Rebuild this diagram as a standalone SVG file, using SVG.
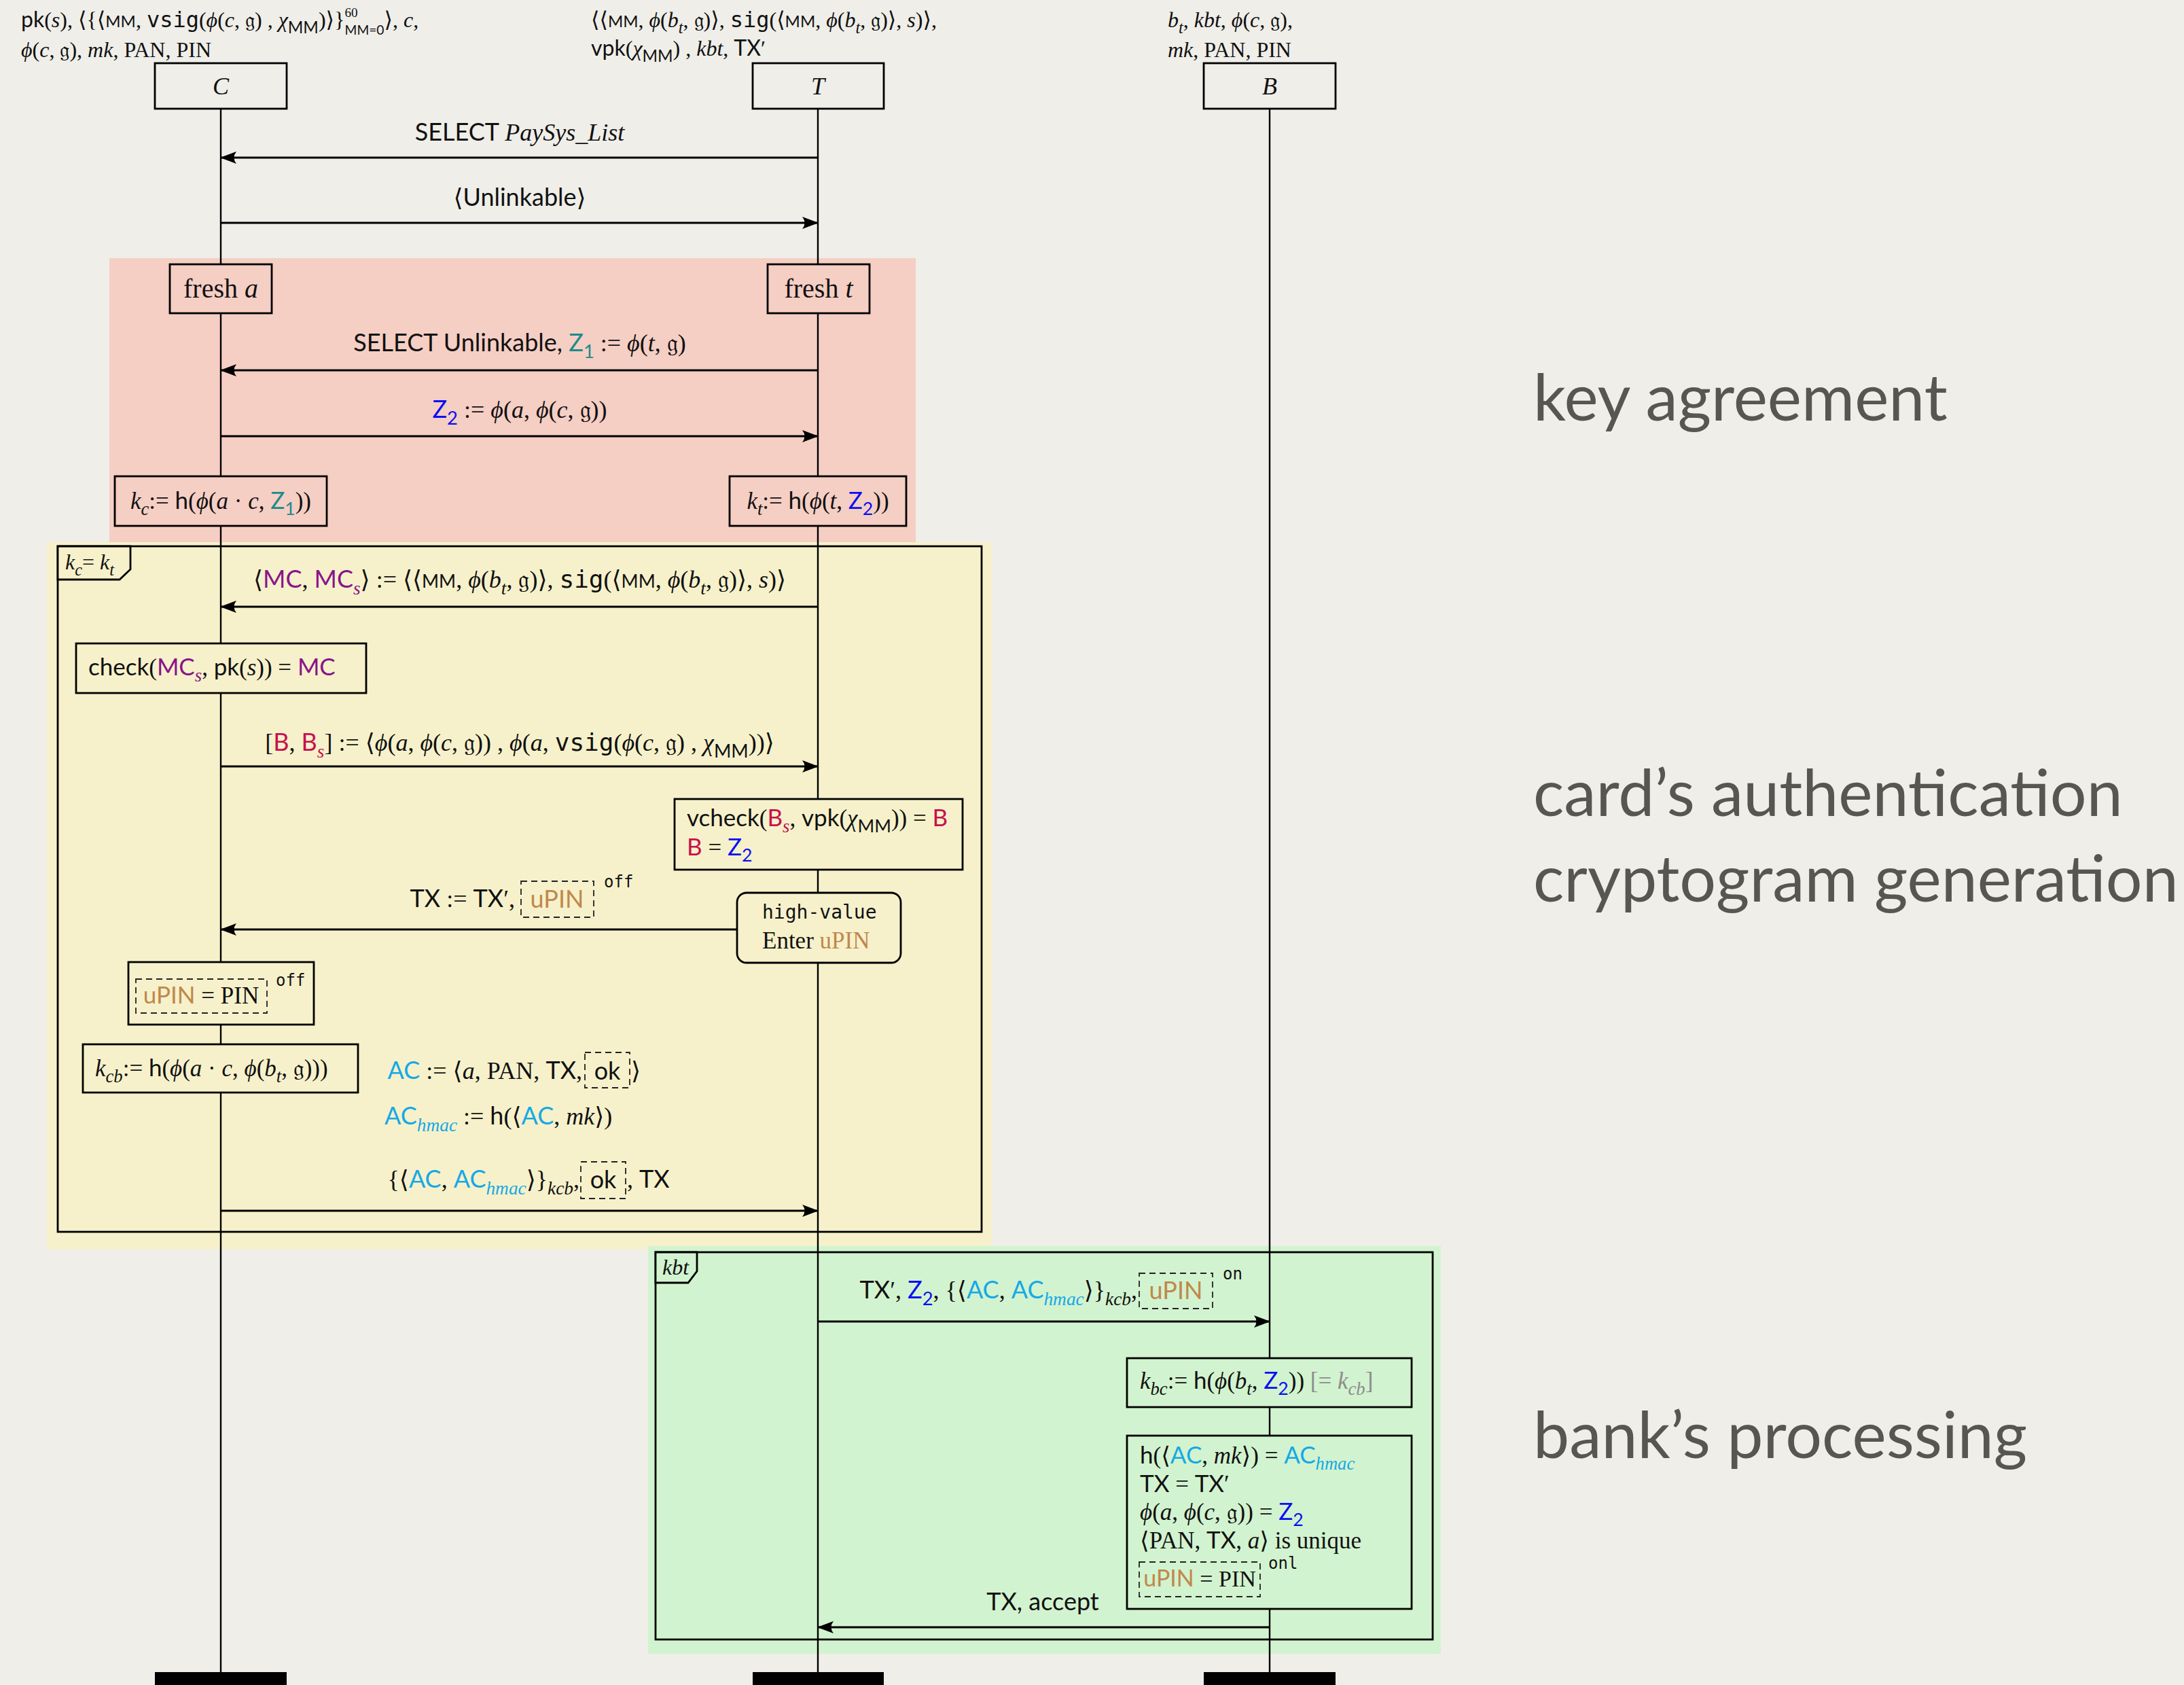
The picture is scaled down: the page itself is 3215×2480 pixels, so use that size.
<svg xmlns="http://www.w3.org/2000/svg" width="3215" height="2480" viewBox="0 0 3215 2480">
<style>
text{font-family:"Liberation Serif","DejaVu Serif",serif;fill:#111;font-size:36px}
.hd{font-size:32px}
.bx{font-size:35px}
.sf{font-family:Lato,"Noto Sans","DejaVu Sans",sans-serif}
.it{font-family:"Liberation Serif","DejaVu Serif",serif;font-style:italic}
.tt{font-family:"DejaVu Sans Mono","Liberation Mono",monospace}
.sm{font-size:75%}
.sub{font-size:76%;baseline-shift:-0.35em}
.lim-up{font-size:60%;baseline-shift:0.8em}
.lim-dn{font-size:60%;baseline-shift:-0.55em}
.teal{fill:#1c8b8b}.blue{fill:#0a10f2}.pur{fill:#8a138a}.crim{fill:#c8104e}.cyan{fill:#16a9e6}.org{fill:#c0884a}.gry{fill:#8c8c8c}
.big{font-family:Lato,"Noto Sans",sans-serif;font-size:95px;fill:#57564f}
.box{stroke:#000;stroke-width:2.8}
.dash{fill:none;stroke:#222;stroke-width:1.8;stroke-dasharray:9 6}
.life{stroke:#000;stroke-width:2.4;fill:none}
.msg{stroke:#000;stroke-width:3;fill:none;marker-end:url(#ah)}
.frame{fill:none;stroke:#000;stroke-width:2.8}
.mid{text-anchor:middle}
.end{text-anchor:end}
.sup2{font-size:24px}
</style>
<defs>
<marker id="ah" viewBox="0 0 24 18" refX="23" refY="9" markerWidth="24" markerHeight="18" markerUnits="userSpaceOnUse" orient="auto"><path d="M24,9 L0,0 Q7,9 0,18 Z" fill="#000"/></marker>
</defs>
<rect width="3215" height="2480" fill="#efeee9"/>
<g id="regions">
<rect x="161" y="380" width="1187" height="422" fill="#f5cec4"/>
<rect x="69" y="798" width="1391" height="1041" fill="#f6f1cb"/>
<rect x="954" y="1834" width="1167" height="600" fill="#d2f3cf"/>
</g>
<g id="phase-labels">
<text class="big" x="2257" y="619">key agreement</text>
<text class="big" x="2257" y="1201">card’s authentication</text>
<text class="big" x="2257" y="1327">cryptogram generation</text>
<text class="big" x="2257" y="2146">bank’s processing</text>
</g>
<g id="frame-kc-kt">
<rect class="frame" x="85" y="804" width="1360" height="1009"/>
<polygon points="85,804 192,804 192,838 176,853 85,853" fill="#f6f1cb" stroke="#000" stroke-width="2.8"/>
<text x="96" y="838" style="font-size:32px"><tspan class="it">k</tspan><tspan class="it sub">c</tspan>= <tspan class="it">k</tspan><tspan class="it sub">t</tspan></text>
</g>
<g id="frame-kbt">
<rect class="frame" x="965" y="1843" width="1144" height="570"/>
<polygon points="965,1843 1026,1843 1026,1871 1013,1888 965,1888" fill="#d2f3cf" stroke="#000" stroke-width="2.8"/>
<text x="975" y="1876" class="it" style="font-size:32px">kbt</text>
</g>
<g id="connectors">
<line class="life" x1="325" y1="160" x2="325" y2="2462"/>
<line class="life" x1="1204" y1="160" x2="1204" y2="2462"/>
<line class="life" x1="1869" y1="160" x2="1869" y2="2462"/>
<g id="m1"><line class="msg" x1="1204" y1="232" x2="325" y2="232"/>
<text class="mid" x="765" y="207"><tspan class="sf">SELECT </tspan><tspan class="it">PaySys_List</tspan></text></g>
<g id="m2"><line class="msg" x1="325" y1="328" x2="1204" y2="328"/>
<text class="mid" x="765" y="303">⟨<tspan class="sf">Unlinkable</tspan>⟩</text></g>
<g id="m3"><line class="msg" x1="1204" y1="545" x2="325" y2="545"/>
<text class="mid" x="765" y="517"><tspan class="sf">SELECT Unlinkable, </tspan><tspan class="sf teal">Z</tspan><tspan class="sf sub teal">1</tspan> := <tspan class="it">ϕ</tspan>(<tspan class="it">t</tspan>, 𝔤)</text></g>
<g id="m4"><line class="msg" x1="325" y1="642" x2="1204" y2="642"/>
<text class="mid" x="765" y="615"><tspan class="sf blue">Z</tspan><tspan class="sf sub blue">2</tspan> := <tspan class="it">ϕ</tspan>(<tspan class="it">a</tspan>, <tspan class="it">ϕ</tspan>(<tspan class="it">c</tspan>, 𝔤))</text></g>
<g id="m5"><line class="msg" x1="1204" y1="893" x2="325" y2="893"/>
<text class="mid" x="765" y="865">⟨<tspan class="sf pur">MC</tspan>, <tspan class="sf pur">MC</tspan><tspan class="it sub pur">s</tspan>⟩ := ⟨⟨<tspan class="sf sm">MM</tspan>, <tspan class="it">ϕ</tspan>(<tspan class="it">b</tspan><tspan class="it sub">t</tspan>, 𝔤)⟩, <tspan class="tt">sig</tspan>(⟨<tspan class="sf sm">MM</tspan>, <tspan class="it">ϕ</tspan>(<tspan class="it">b</tspan><tspan class="it sub">t</tspan>, 𝔤)⟩, <tspan class="it">s</tspan>)⟩</text></g>
<g id="m6"><line class="msg" x1="325" y1="1128" x2="1204" y2="1128"/>
<text class="mid" x="765" y="1105">[<tspan class="sf crim">B</tspan>, <tspan class="sf crim">B</tspan><tspan class="it sub crim">s</tspan>] := ⟨<tspan class="it">ϕ</tspan>(<tspan class="it">a</tspan>, <tspan class="it">ϕ</tspan>(<tspan class="it">c</tspan>, 𝔤)) , <tspan class="it">ϕ</tspan>(<tspan class="it">a</tspan>, <tspan class="tt">vsig</tspan>(<tspan class="it">ϕ</tspan>(<tspan class="it">c</tspan>, 𝔤) , <tspan class="it">χ</tspan><tspan class="sf sub">MM</tspan>))⟩</text></g>
<g id="m7"><line class="msg" x1="1085" y1="1368" x2="325" y2="1368"/>
<text class="end" x="758" y="1335"><tspan class="sf">TX</tspan> := <tspan class="sf">TX</tspan>′,</text>
<rect class="dash" x="767" y="1297" width="107" height="53"/>
<text class="mid sf org" x="820" y="1336">uPIN</text>
<text class="tt sup2" x="889" y="1306">off</text></g>
<g id="m8"><line class="msg" x1="325" y1="1782" x2="1204" y2="1782"/>
<text class="end" x="853" y="1748">{⟨<tspan class="sf cyan">AC</tspan>, <tspan class="sf cyan">AC</tspan><tspan class="it sub cyan">hmac</tspan>⟩}<tspan class="it sub">kcb</tspan>,</text>
<rect class="dash" x="855" y="1710" width="66" height="54"/>
<text class="mid sf" x="888" y="1749">ok</text>
<text x="923" y="1748">, <tspan class="sf">TX</tspan></text></g>
<g id="m9"><line class="msg" x1="1204" y1="1945" x2="1869" y2="1945"/>
<text class="end" x="1674" y="1911"><tspan class="sf">TX</tspan>′, <tspan class="sf blue">Z</tspan><tspan class="sf sub blue">2</tspan>, {⟨<tspan class="sf cyan">AC</tspan>, <tspan class="sf cyan">AC</tspan><tspan class="it sub cyan">hmac</tspan>⟩}<tspan class="it sub">kcb</tspan>,</text>
<rect class="dash" x="1677" y="1874" width="108" height="52"/>
<text class="mid sf org" x="1731" y="1912">uPIN</text>
<text class="tt sup2" x="1800" y="1883">on</text></g>
<g id="m10"><line class="msg" x1="1869" y1="2395" x2="1204" y2="2395"/>
<text class="mid sf" x="1535" y="2370">TX, accept</text></g>
</g>
<g id="participant-C">
<text class="hd" x="31" y="40"><tspan class="sf">pk</tspan>(<tspan class="it">s</tspan>), ⟨{⟨<tspan class="sf sm">MM</tspan>, <tspan class="tt">vsig</tspan>(<tspan class="it">ϕ</tspan>(<tspan class="it">c</tspan>, 𝔤) , <tspan class="it">χ</tspan><tspan class="sf sub">MM</tspan>)⟩}<tspan class="lim-up">60</tspan><tspan class="sf lim-dn" dx="-19">MM=0</tspan>⟩, <tspan class="it">c</tspan>,</text>
<text class="hd" x="31" y="84"><tspan class="it">ϕ</tspan>(<tspan class="it">c</tspan>, 𝔤), <tspan class="it">mk</tspan>, PAN, PIN</text>
<rect class="box" x="228" y="93" width="194" height="67" fill="#efeee9"/>
<text class="it mid" x="325" y="139" style="font-size:36px">C</text>
<rect x="228" y="2461" width="194" height="25" fill="#000"/>
</g>
<g id="participant-T">
<text class="hd" x="870" y="40">⟨⟨<tspan class="sf sm">MM</tspan>, <tspan class="it">ϕ</tspan>(<tspan class="it">b</tspan><tspan class="it sub">t</tspan>, 𝔤)⟩, <tspan class="tt">sig</tspan>(⟨<tspan class="sf sm">MM</tspan>, <tspan class="it">ϕ</tspan>(<tspan class="it">b</tspan><tspan class="it sub">t</tspan>, 𝔤)⟩, <tspan class="it">s</tspan>)⟩,</text>
<text class="hd" x="870" y="82"><tspan class="sf">vpk</tspan>(<tspan class="it">χ</tspan><tspan class="sf sub">MM</tspan>) , <tspan class="it">kbt</tspan>, <tspan class="sf">TX</tspan>′</text>
<rect class="box" x="1108" y="93" width="193" height="67" fill="#efeee9"/>
<text class="it mid" x="1204" y="139" style="font-size:36px">T</text>
<rect x="1108" y="2461" width="193" height="25" fill="#000"/>
</g>
<g id="participant-B">
<text class="hd" x="1719" y="40"><tspan class="it">b</tspan><tspan class="it sub">t</tspan>, <tspan class="it">kbt</tspan>, <tspan class="it">ϕ</tspan>(<tspan class="it">c</tspan>, 𝔤),</text>
<text class="hd" x="1719" y="84"><tspan class="it">mk</tspan>, PAN, PIN</text>
<rect class="box" x="1772" y="93" width="194" height="67" fill="#efeee9"/>
<text class="it mid" x="1869" y="139" style="font-size:36px">B</text>
<rect x="1772" y="2461" width="194" height="25" fill="#000"/>
</g>
<g id="fresh-a">
<rect class="box" x="250" y="389" width="150" height="72" fill="#f5cec4"/>
<text class="mid" x="325" y="438" style="font-size:40px">fresh <tspan class="it">a</tspan></text>
</g>
<g id="fresh-t">
<rect class="box" x="1130" y="389" width="150" height="72" fill="#f5cec4"/>
<text class="mid" x="1205" y="438" style="font-size:40px">fresh <tspan class="it">t</tspan></text>
</g>
<g id="kc">
<rect class="box" x="169" y="701" width="312" height="73" fill="#f5cec4"/>
<text class="mid bx" x="325" y="749"><tspan class="it">k</tspan><tspan class="it sub">c</tspan>:= <tspan class="sf">h</tspan>(<tspan class="it">ϕ</tspan>(<tspan class="it">a</tspan> · <tspan class="it">c</tspan>, <tspan class="sf teal">Z</tspan><tspan class="sf sub teal">1</tspan>))</text>
</g>
<g id="kt">
<rect class="box" x="1074" y="701" width="260" height="73" fill="#f5cec4"/>
<text class="mid bx" x="1204" y="749"><tspan class="it">k</tspan><tspan class="it sub">t</tspan>:= <tspan class="sf">h</tspan>(<tspan class="it">ϕ</tspan>(<tspan class="it">t</tspan>, <tspan class="sf blue">Z</tspan><tspan class="sf sub blue">2</tspan>))</text>
</g>
<g id="check">
<rect class="box" x="112" y="947" width="427" height="73" fill="#f6f1cb"/>
<text class="bx" x="130" y="994"><tspan class="sf">check</tspan>(<tspan class="sf pur">MC</tspan><tspan class="it sub pur">s</tspan>, <tspan class="sf">pk</tspan>(<tspan class="it">s</tspan>)) = <tspan class="sf pur">MC</tspan></text>
</g>
<g id="vcheck">
<rect class="box" x="993" y="1176" width="424" height="104" fill="#f6f1cb"/>
<text class="bx" x="1011" y="1216"><tspan class="sf">vcheck</tspan>(<tspan class="sf crim">B</tspan><tspan class="it sub crim">s</tspan>, <tspan class="sf">vpk</tspan>(<tspan class="it">χ</tspan><tspan class="sf sub">MM</tspan>)) = <tspan class="sf crim">B</tspan></text>
<text class="bx" x="1011" y="1259"><tspan class="sf crim">B</tspan> = <tspan class="sf blue">Z</tspan><tspan class="sf sub blue">2</tspan></text>
</g>
<g id="high-value">
<rect class="box" x="1085" y="1314" width="241" height="103" rx="14" fill="#f6f1cb"/>
<text class="tt" x="1122" y="1352" style="font-size:28px">high-value</text>
<text class="bx" x="1122" y="1396">Enter <tspan class="org">uPIN</tspan></text>
</g>
<g id="upin-check-card">
<rect class="box" x="189" y="1416" width="273" height="92" fill="#f6f1cb"/>
<rect class="dash" x="200" y="1441" width="193" height="50"/>
<text class="mid bx" x="296" y="1477"><tspan class="sf org">uPIN</tspan> = PIN</text>
<text class="tt sup2" x="406" y="1451">off</text>
</g>
<g id="kcb">
<rect class="box" x="122" y="1537" width="405" height="71" fill="#f6f1cb"/>
<text class="bx" x="140" y="1584"><tspan class="it">k</tspan><tspan class="it sub">cb</tspan>:= <tspan class="sf">h</tspan>(<tspan class="it">ϕ</tspan>(<tspan class="it">a</tspan> · <tspan class="it">c</tspan>, <tspan class="it">ϕ</tspan>(<tspan class="it">b</tspan><tspan class="it sub">t</tspan>, 𝔤)))</text>
</g>
<g id="ac-computation">
<text class="end" x="857" y="1588"><tspan class="sf cyan">AC</tspan> := ⟨<tspan class="it">a</tspan>, PAN, <tspan class="sf">TX</tspan>,</text>
<rect class="dash" x="861" y="1549" width="66" height="52"/>
<text class="mid sf" x="894" y="1589">ok</text>
<text x="929" y="1588">⟩</text>
<text x="566" y="1655"><tspan class="sf cyan">AC</tspan><tspan class="it sub cyan">hmac</tspan> := <tspan class="sf">h</tspan>(⟨<tspan class="sf cyan">AC</tspan>, <tspan class="it">mk</tspan>⟩)</text>
</g>
<g id="kbc">
<rect class="box" x="1659" y="1999" width="419" height="72" fill="#d2f3cf"/>
<text class="bx" x="1678" y="2044"><tspan class="it">k</tspan><tspan class="it sub">bc</tspan>:= <tspan class="sf">h</tspan>(<tspan class="it">ϕ</tspan>(<tspan class="it">b</tspan><tspan class="it sub">t</tspan>, <tspan class="sf blue">Z</tspan><tspan class="sf sub blue">2</tspan>)) <tspan class="gry">[= <tspan class="it">k</tspan><tspan class="it sub">cb</tspan>]</tspan></text>
</g>
<g id="bank-checks">
<rect class="box" x="1659" y="2113" width="419" height="255" fill="#d2f3cf"/>
<text class="bx" x="1678" y="2154"><tspan class="sf">h</tspan>(⟨<tspan class="sf cyan">AC</tspan>, <tspan class="it">mk</tspan>⟩) = <tspan class="sf cyan">AC</tspan><tspan class="it sub cyan">hmac</tspan></text>
<text class="bx" x="1678" y="2196"><tspan class="sf">TX</tspan> = <tspan class="sf">TX</tspan>′</text>
<text class="bx" x="1678" y="2237"><tspan class="it">ϕ</tspan>(<tspan class="it">a</tspan>, <tspan class="it">ϕ</tspan>(<tspan class="it">c</tspan>, 𝔤)) = <tspan class="sf blue">Z</tspan><tspan class="sf sub blue">2</tspan></text>
<text class="bx" x="1678" y="2279">⟨PAN, <tspan class="sf">TX</tspan>, <tspan class="it">a</tspan>⟩ is unique</text>
<rect class="dash" x="1677" y="2299" width="178" height="51"/>
<text class="mid" x="1766" y="2335" style="font-size:34px"><tspan class="sf org">uPIN</tspan> = PIN</text>
<text class="tt sup2" x="1867" y="2309">onl</text>
</g>
</svg>
